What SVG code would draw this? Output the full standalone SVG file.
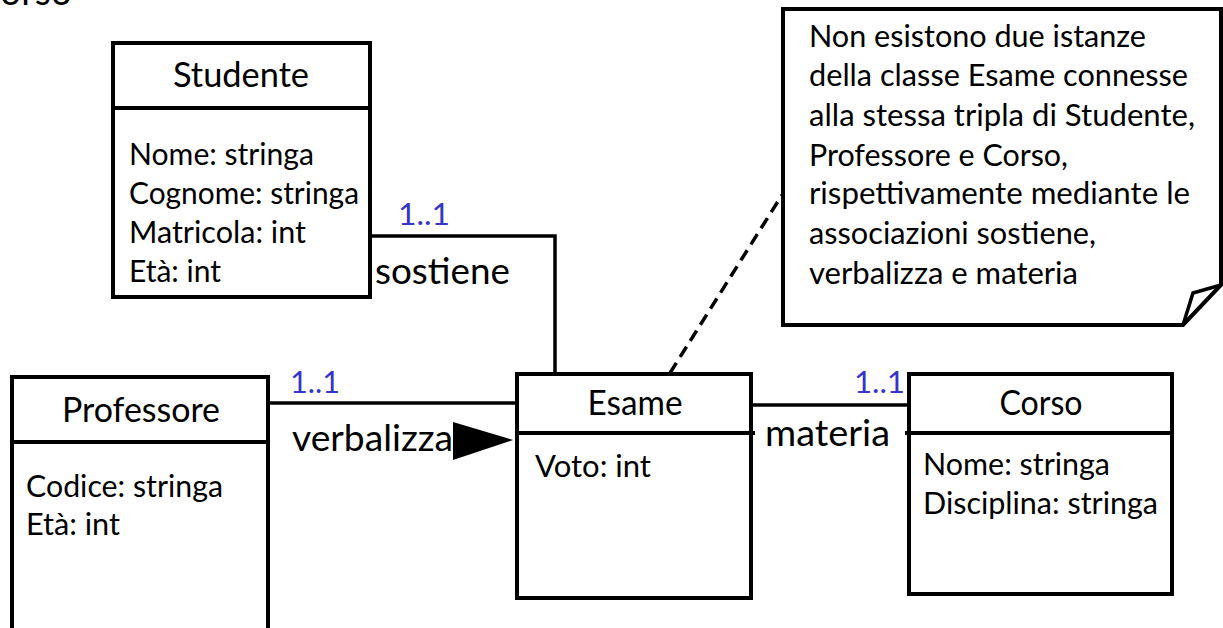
<svg xmlns="http://www.w3.org/2000/svg" width="1223" height="628" viewBox="0 0 1223 628">
<style>
text{font-family:Lato,"Open Sans","Liberation Sans",sans-serif;fill:#000}
.box{fill:#fff;stroke:#000;stroke-width:4}
.div{stroke:#000;stroke-width:4}
.title{font-size:34px;text-anchor:middle}
.attr{font-size:31px}
.note{font-size:31px}
.lbl{font-size:37px}
.mult{font-size:31px;fill:#3535C8}
.ln{fill:none;stroke:#000;stroke-width:3.5}
.dash{fill:none;stroke:#000;stroke-width:3.5;stroke-dasharray:12 7}
</style>
<rect width="1223" height="628" fill="#fff"/>
<text x="0" y="5" font-size="40" textLength="72" lengthAdjust="spacingAndGlyphs">orso</text>

<g id="connectors">
<polyline class="ln" points="370,236 555,236 555,374"/>
<line class="ln" x1="268" y1="403" x2="517" y2="403"/>
<polygon points="453,422 453,460 513,440" fill="#000"/>
<line class="ln" x1="751" y1="405" x2="909" y2="405"/>
<line class="dash" x1="670" y1="373" x2="782" y2="195"/>
<text class="mult" x="398" y="225" textLength="52" lengthAdjust="spacingAndGlyphs">1..1</text>
<text class="lbl" x="375" y="284" textLength="135" lengthAdjust="spacingAndGlyphs">sostiene</text>
<text class="mult" x="290" y="393" textLength="50" lengthAdjust="spacingAndGlyphs">1..1</text>
<text class="lbl" x="292" y="451" textLength="161" lengthAdjust="spacingAndGlyphs">verbalizza</text>
<text class="mult" x="854" y="393" textLength="51" lengthAdjust="spacingAndGlyphs">1..1</text>
<text class="lbl" x="765" y="446" textLength="125" lengthAdjust="spacingAndGlyphs">materia</text>
</g>

<g id="studente">
<rect class="box" x="113" y="43" width="257" height="254"/>
<line class="div" x1="113" y1="108" x2="370" y2="108"/>
<text class="title" x="241" y="87" textLength="136" lengthAdjust="spacingAndGlyphs">Studente</text>
<text class="attr" x="129" y="165" textLength="185" lengthAdjust="spacingAndGlyphs">Nome: stringa</text>
<text class="attr" x="129" y="204" textLength="230" lengthAdjust="spacingAndGlyphs">Cognome: stringa</text>
<text class="attr" x="129" y="243" textLength="177" lengthAdjust="spacingAndGlyphs">Matricola: int</text>
<text class="attr" x="129" y="282" textLength="92" lengthAdjust="spacingAndGlyphs">Età: int</text>
</g>

<g id="professore">
<rect class="box" x="12" y="377" width="256" height="270"/>
<line class="div" x1="12" y1="442" x2="268" y2="442"/>
<text class="title" x="141" y="422" textLength="158" lengthAdjust="spacingAndGlyphs">Professore</text>
<text class="attr" x="26" y="497" textLength="197" lengthAdjust="spacingAndGlyphs">Codice: stringa</text>
<text class="attr" x="26" y="535" textLength="94" lengthAdjust="spacingAndGlyphs">Età: int</text>
</g>

<g id="esame">
<rect class="box" x="517" y="374" width="234" height="224"/>
<line class="div" x1="517" y1="433" x2="755" y2="433"/>
<text class="title" x="635" y="415" textLength="95" lengthAdjust="spacingAndGlyphs">Esame</text>
<text class="attr" x="535" y="477" textLength="116" lengthAdjust="spacingAndGlyphs">Voto: int</text>
</g>

<g id="corso">
<rect class="box" x="909" y="374" width="263" height="220"/>
<line class="div" x1="905" y1="433" x2="1172" y2="433"/>
<text class="title" x="1041" y="415" textLength="83" lengthAdjust="spacingAndGlyphs">Corso</text>
<text class="attr" x="923" y="475" textLength="187" lengthAdjust="spacingAndGlyphs">Nome: stringa</text>
<text class="attr" x="923" y="514" textLength="235" lengthAdjust="spacingAndGlyphs">Disciplina: stringa</text>
</g>

<g id="nota">
<polygon points="783,9 1221,9 1221,285 1183,325 783,325" fill="#fff" stroke="#000" stroke-width="4" stroke-linejoin="miter"/>
<polyline points="1183,325 1193,293 1221,285" fill="none" stroke="#000" stroke-width="3.5"/>
<text class="note" x="809" y="47" textLength="337" lengthAdjust="spacingAndGlyphs">Non esistono due istanze</text>
<text class="note" x="809" y="86" textLength="379" lengthAdjust="spacingAndGlyphs">della classe Esame connesse</text>
<text class="note" x="809" y="126" textLength="386" lengthAdjust="spacingAndGlyphs">alla stessa tripla di Studente,</text>
<text class="note" x="809" y="166" textLength="259" lengthAdjust="spacingAndGlyphs">Professore e Corso,</text>
<text class="note" x="809" y="204" textLength="381" lengthAdjust="spacingAndGlyphs">rispettivamente mediante le</text>
<text class="note" x="809" y="244" textLength="287" lengthAdjust="spacingAndGlyphs">associazioni sostiene,</text>
<text class="note" x="809" y="284" textLength="269" lengthAdjust="spacingAndGlyphs">verbalizza e materia</text>
</g>
</svg>
